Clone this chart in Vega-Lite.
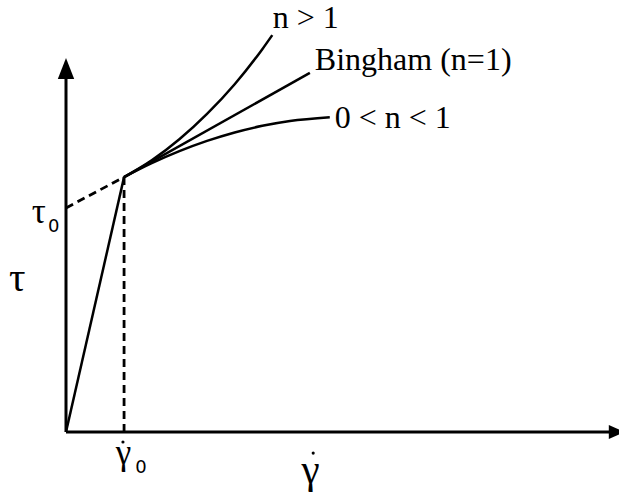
{
  "$schema": "https://vega.github.io/schema/vega-lite/v6.json",
  "width": 553,
  "height": 432,
  "padding": {"left": 66, "top": 0, "right": 0, "bottom": 63},
  "autosize": {"type": "none"},
  "background": "white",
  "config": {"view": {"stroke": null}},
  "datasets": {
    "curves": [
      {"curve": "elastic", "x": 0, "y": 0},
      {"curve": "elastic", "x": 10.5, "y": 47.2},
      {"curve": "n>1", "x": 10.5, "y": 47.2},
      {"curve": "n>1", "x": 15.5, "y": 50.3},
      {"curve": "n>1", "x": 20.5, "y": 54.2},
      {"curve": "n>1", "x": 25.5, "y": 58.9},
      {"curve": "n>1", "x": 30.5, "y": 64.4},
      {"curve": "n>1", "x": 35.5, "y": 70.9},
      {"curve": "n>1", "x": 37.3, "y": 73.5},
      {"curve": "Bingham", "x": 10.5, "y": 47.2},
      {"curve": "Bingham", "x": 44.1, "y": 66.5},
      {"curve": "0<n<1", "x": 10.5, "y": 47.2},
      {"curve": "0<n<1", "x": 15.5, "y": 49.77},
      {"curve": "0<n<1", "x": 20.5, "y": 52.0},
      {"curve": "0<n<1", "x": 25.5, "y": 53.9},
      {"curve": "0<n<1", "x": 30.5, "y": 55.47},
      {"curve": "0<n<1", "x": 35.5, "y": 56.7},
      {"curve": "0<n<1", "x": 40.5, "y": 57.6},
      {"curve": "0<n<1", "x": 47.7, "y": 58.3}
    ],
    "guides": [
      {"guide": "tau0", "x": 0, "y": 41.5},
      {"guide": "tau0", "x": 10.5, "y": 47.2},
      {"guide": "gamma0", "x": 10.5, "y": 0},
      {"guide": "gamma0", "x": 10.5, "y": 47.2}
    ],
    "axes": [
      {"axis": "tau", "x": 0, "y": 0},
      {"axis": "tau", "x": 0, "y": 66},
      {"axis": "gamma", "x": 0, "y": 0},
      {"axis": "gamma", "x": 98.5, "y": 0}
    ],
    "curveLabels": [
      {"text": "n > 1", "x": 37.4, "y": 74.8},
      {"text": "Bingham (n=1)", "x": 45.0, "y": 67.0},
      {"text": "0 < n < 1", "x": 48.6, "y": 56.3}
    ]
  },
  "encoding": {
    "x": {"field": "x", "type": "quantitative", "scale": {"domain": [0, 100], "nice": false, "zero": false}, "axis": null},
    "y": {"field": "y", "type": "quantitative", "scale": {"domain": [0, 80], "nice": false, "zero": false}, "axis": null}
  },
  "layer": [
    {
      "data": {"name": "axes"},
      "mark": {"type": "line", "stroke": "black", "strokeWidth": 3},
      "encoding": {"detail": {"field": "axis"}}
    },
    {
      "data": {"values": [{"x": 0, "y": 67.3}]},
      "mark": {"type": "point", "shape": "M0,-1L0.78,1L-0.78,1Z", "filled": true, "color": "black", "opacity": 1, "size": 441}
    },
    {
      "data": {"values": [{"x": 99.6, "y": 0}]},
      "mark": {"type": "point", "shape": "M1,0L-1,-0.875L-1,0.875Z", "filled": true, "color": "black", "opacity": 1, "size": 256}
    },
    {
      "data": {"name": "guides"},
      "mark": {"type": "line", "stroke": "black", "strokeWidth": 2.8, "strokeDash": [8, 5]},
      "encoding": {"detail": {"field": "guide"}}
    },
    {
      "data": {"name": "curves"},
      "mark": {"type": "line", "stroke": "black", "strokeWidth": 2.5, "interpolate": "monotone"},
      "encoding": {"detail": {"field": "curve"}}
    },
    {
      "data": {"name": "curveLabels"},
      "mark": {"type": "text", "font": "Liberation Serif", "fontSize": 32, "align": "left", "baseline": "alphabetic", "color": "black"},
      "encoding": {"text": {"field": "text"}}
    },
    {
      "data": {"values": [{"text": "τ", "x": -10.3, "y": 26.1}, {"text": "γ", "x": 42.6, "y": -9.4}]},
      "mark": {"type": "text", "font": "Liberation Serif", "fontSize": 41, "align": "left", "baseline": "alphabetic", "color": "black"},
      "encoding": {"text": {"field": "text"}}
    },
    {
      "data": {"values": [{"text": "τ", "x": -6.2, "y": 38.7}, {"text": "γ", "x": 9.0, "y": -5.9}]},
      "mark": {"type": "text", "font": "Liberation Serif", "fontSize": 35, "align": "left", "baseline": "alphabetic", "color": "black"},
      "encoding": {"text": {"field": "text"}}
    },
    {
      "data": {"values": [{"text": "0", "x": -3.25, "y": 37.0}, {"text": "0", "x": 12.5, "y": -7.6}]},
      "mark": {"type": "text", "font": "DejaVu Sans", "fontSize": 18, "align": "left", "baseline": "alphabetic", "color": "black"},
      "encoding": {"text": {"field": "text"}}
    },
    {
      "data": {"values": [{"x": 10.3, "y": -1.85}, {"x": 44.7, "y": -3.9}]},
      "mark": {"type": "point", "shape": "circle", "filled": true, "color": "black", "opacity": 1, "size": 10}
    }
  ]
}
